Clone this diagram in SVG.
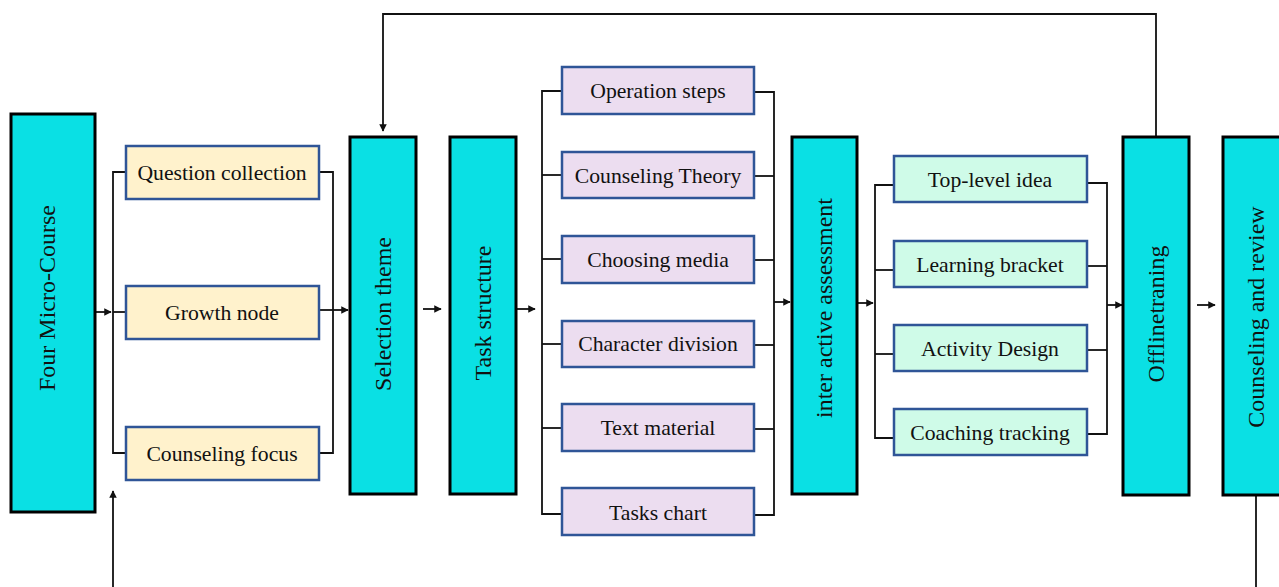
<svg xmlns="http://www.w3.org/2000/svg" width="1279" height="587" viewBox="0 0 1279 587">
  <style>
    .stage { fill: #0AE0E4; stroke: #000; stroke-width: 3; }
    .yel { fill: #FFF2CC; stroke: #2F5597; stroke-width: 2.5; }
    .pur { fill: #ECDDF0; stroke: #2F5597; stroke-width: 2.5; }
    .grn { fill: #CFFBE8; stroke: #2F5597; stroke-width: 2.5; }
    .lbl { font-family: "Liberation Serif", "Times New Roman", serif; font-size: 21.7px; fill: #111; text-anchor: middle; }
    .vlbl { font-family: "Liberation Serif", "Times New Roman", serif; font-size: 24px; fill: #111; text-anchor: middle; }
    .wire { fill: none; stroke: #111; stroke-width: 1.8; }
  </style>
  <defs>
    <marker id="head" viewBox="0 0 10 10" refX="9" refY="5" markerWidth="8" markerHeight="7.5" markerUnits="userSpaceOnUse" orient="auto">
      <path d="M0,0 L10,5 L0,10 Z" fill="#111"/>
    </marker>
  </defs>

  <rect width="1279" height="587" fill="#fff"/>

  <!-- connectors -->
  <g id="connectors">
    <!-- feedback loop across the top -->
    <polyline class="wire" points="1156,137 1156,14 383,14 383,131" marker-end="url(#head)"/>
    <!-- return path along the bottom -->
    <line class="wire" x1="1256" y1="495" x2="1256" y2="587"/>
    <line class="wire" x1="113" y1="587" x2="113" y2="491" marker-end="url(#head)"/>

    <!-- Four Micro-Course into first bracket -->
    <line class="wire" x1="95" y1="312" x2="111" y2="312" marker-end="url(#head)"/>
    <!-- yellow bracket -->
    <polyline class="wire" points="126,172 113,172 113,453 126,453"/>
    <line class="wire" x1="113" y1="312" x2="126" y2="312"/>
    <polyline class="wire" points="319,172 333,172 333,453 319,453"/>
    <line class="wire" x1="319" y1="310" x2="348" y2="310" marker-end="url(#head)"/>

    <line class="wire" x1="423" y1="309" x2="441" y2="309" marker-end="url(#head)"/>
    <line class="wire" x1="517" y1="309" x2="535" y2="309" marker-end="url(#head)"/>

    <!-- purple bracket -->
    <polyline class="wire" points="562,91 542,91 542,514 562,514"/>
    <line class="wire" x1="542" y1="175" x2="562" y2="175"/>
    <line class="wire" x1="542" y1="259" x2="562" y2="259"/>
    <line class="wire" x1="542" y1="344" x2="562" y2="344"/>
    <line class="wire" x1="542" y1="428" x2="562" y2="428"/>
    <polyline class="wire" points="754,92 774,92 774,515 754,515"/>
    <line class="wire" x1="754" y1="176" x2="774" y2="176"/>
    <line class="wire" x1="754" y1="260" x2="774" y2="260"/>
    <line class="wire" x1="754" y1="345" x2="774" y2="345"/>
    <line class="wire" x1="754" y1="429" x2="774" y2="429"/>
    <line class="wire" x1="774" y1="302" x2="790" y2="302" marker-end="url(#head)"/>

    <!-- green bracket -->
    <line class="wire" x1="857" y1="303" x2="873" y2="303" marker-end="url(#head)"/>
    <polyline class="wire" points="894,185 875,185 875,438 894,438"/>
    <line class="wire" x1="875" y1="270" x2="894" y2="270"/>
    <line class="wire" x1="875" y1="354" x2="894" y2="354"/>
    <polyline class="wire" points="1087,183 1107,183 1107,434 1087,434"/>
    <line class="wire" x1="1087" y1="266" x2="1107" y2="266"/>
    <line class="wire" x1="1087" y1="350" x2="1107" y2="350"/>
    <line class="wire" x1="1107" y1="305" x2="1122" y2="305" marker-end="url(#head)"/>

    <line class="wire" x1="1197" y1="305" x2="1215" y2="305" marker-end="url(#head)"/>
  </g>

  <!-- stage columns -->
  <g id="four-micro-course">
    <rect class="stage" x="11" y="114" width="84" height="398"/>
    <text class="vlbl" font-size="24.8" transform="translate(55,298) rotate(-90)">Four Micro-Course</text>
  </g>
  <g id="selection-theme">
    <rect class="stage" x="350" y="137" width="66" height="357"/>
    <text class="vlbl" transform="translate(391,314) rotate(-90)">Selection theme</text>
  </g>
  <g id="task-structure">
    <rect class="stage" x="450" y="137" width="66" height="357"/>
    <text class="vlbl" transform="translate(491,313) rotate(-90)">Task structure</text>
  </g>
  <g id="interactive-assessment">
    <rect class="stage" x="792" y="137" width="65" height="357"/>
    <text class="vlbl" transform="translate(832,308) rotate(-90)">inter active assessment</text>
  </g>
  <g id="offline-training">
    <rect class="stage" x="1123" y="137" width="66" height="358"/>
    <text class="vlbl" transform="translate(1164,314) rotate(-90)">Offlinetraning</text>
  </g>
  <g id="counseling-review">
    <rect class="stage" x="1223" y="137" width="70" height="358"/>
    <text class="vlbl" transform="translate(1264,317) rotate(-90)">Counseling and review</text>
  </g>

  <!-- yellow items -->
  <g id="question-collection">
    <rect class="yel" x="126" y="146" width="193" height="53"/>
    <text class="lbl" x="222" y="180">Question collection</text>
  </g>
  <g id="growth-node">
    <rect class="yel" x="126" y="286" width="193" height="53"/>
    <text class="lbl" x="222" y="320">Growth node</text>
  </g>
  <g id="counseling-focus">
    <rect class="yel" x="126" y="427" width="193" height="53"/>
    <text class="lbl" x="222" y="461">Counseling focus</text>
  </g>

  <!-- purple items -->
  <g id="operation-steps">
    <rect class="pur" x="562" y="67" width="192" height="47"/>
    <text class="lbl" x="658" y="98">Operation steps</text>
  </g>
  <g id="counseling-theory">
    <rect class="pur" x="562" y="152" width="192" height="46"/>
    <text class="lbl" x="658" y="183">Counseling Theory</text>
  </g>
  <g id="choosing-media">
    <rect class="pur" x="562" y="236" width="192" height="47"/>
    <text class="lbl" x="658" y="267">Choosing media</text>
  </g>
  <g id="character-division">
    <rect class="pur" x="562" y="321" width="192" height="46"/>
    <text class="lbl" x="658" y="351">Character division</text>
  </g>
  <g id="text-material">
    <rect class="pur" x="562" y="404" width="192" height="47"/>
    <text class="lbl" x="658" y="435">Text material</text>
  </g>
  <g id="tasks-chart">
    <rect class="pur" x="562" y="488" width="192" height="47"/>
    <text class="lbl" x="658" y="520">Tasks chart</text>
  </g>

  <!-- green items -->
  <g id="top-level-idea">
    <rect class="grn" x="894" y="156" width="193" height="46"/>
    <text class="lbl" x="990" y="187">Top-level idea</text>
  </g>
  <g id="learning-bracket">
    <rect class="grn" x="894" y="241" width="193" height="46"/>
    <text class="lbl" x="990" y="272">Learning bracket</text>
  </g>
  <g id="activity-design">
    <rect class="grn" x="894" y="325" width="193" height="46"/>
    <text class="lbl" x="990" y="356">Activity Design</text>
  </g>
  <g id="coaching-tracking">
    <rect class="grn" x="894" y="409" width="193" height="46"/>
    <text class="lbl" x="990" y="440">Coaching tracking</text>
  </g>
</svg>
